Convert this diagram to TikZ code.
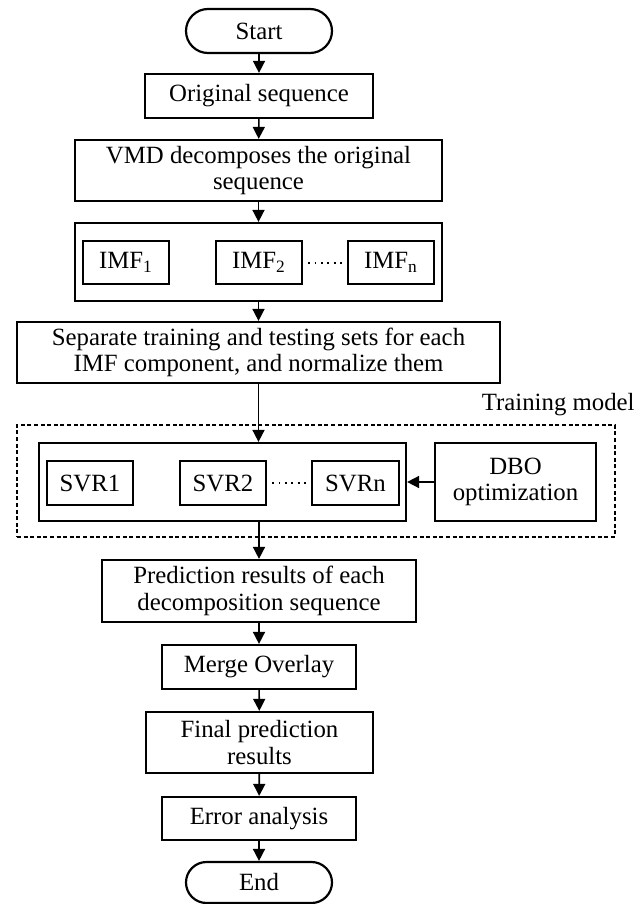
\documentclass[tikz,border=0pt]{standalone}
\usepackage{fontspec}
\setmainfont{Liberation Serif}
\usetikzlibrary{arrows.meta}
\begin{document}
\begin{tikzpicture}[x=0.5pt,y=-0.5pt,
  txt/.style={font=\fontsize{12.4}{13.4}\selectfont},
  box/.style={draw, line width=1.1pt, inner sep=0pt, align=center, txt},
  term/.style={box, rounded corners=11pt},
  arr/.style={-{Triangle[width=6pt,length=6pt]}, line width=0.8pt},
  dotsline/.style={line width=1pt, dash pattern=on 0.9pt off 2.3pt}]
\useasboundingbox (0,0) rectangle (637,904);

% main column
\node[term, minimum width=73pt, minimum height=22pt] (start) at (259,31) {Start};
\node[box, minimum width=114pt, minimum height=22pt] (orig) at (259,96) {Original sequence};
\node[box, minimum width=183.5pt, minimum height=30.5pt] (vmd) at (258.5,170.5) {VMD decomposes the original\\sequence};

% IMF group
\node[box, minimum width=183.5pt, minimum height=39pt] (imfo) at (258.5,262) {};
\node[box, minimum width=43pt, minimum height=21.5pt] (imf1) at (126,262.5) {IMF\textsubscript{1}};
\node[box, minimum width=43pt, minimum height=21.5pt] (imf2) at (259,262.5) {IMF\textsubscript{2}};
\node[box, minimum width=43pt, minimum height=21.5pt] (imfn) at (391,262.5) {IMF\textsubscript{n}};
\draw[dotsline] ([xshift=2.5pt]imf2.east) -- ([xshift=-2pt]imfn.west);

\node[box, minimum width=241.5pt, minimum height=30.5pt] (sep) at (258.5,352.5) {Separate training and testing sets for each\\IMF component, and normalize them};

% training model
\node[draw, line width=1pt, dash pattern=on 2pt off 1.3pt, minimum width=299pt, minimum height=56pt, inner sep=0pt] (train) at (316,481) {};
\node[txt, anchor=east, inner sep=0pt] (trainlbl) at (635,405) {Training model};
\node[box, minimum width=183.5pt, minimum height=39pt] (svro) at (222.5,482) {};
\node[box, minimum width=43pt, minimum height=22pt] (svr1) at (90,483) {SVR1};
\node[box, minimum width=43pt, minimum height=22pt] (svr2) at (223,483) {SVR2};
\node[box, minimum width=43.5pt, minimum height=22pt] (svrn) at (355.5,483) {SVRn};
\draw[dotsline] ([xshift=2.5pt]svr2.east) -- ([xshift=-2pt]svrn.west);
\node[box, minimum width=80.5pt, minimum height=39pt] (dbo) at (515.5,482) {DBO\\optimization};

\node[box, minimum width=157pt, minimum height=31pt] (pred) at (259,591) {Prediction results of each\\decomposition sequence};
\node[box, minimum width=97pt, minimum height=22pt] (merge) at (259,667) {Merge Overlay};
\node[box, minimum width=113.5pt, minimum height=30.5pt] (final) at (259.5,742.5) {Final prediction\\results};
\node[box, minimum width=97pt, minimum height=21.5pt] (err) at (259,818.5) {Error analysis};
\node[term, minimum width=73pt, minimum height=20.5pt, rounded corners=10.25pt] (end) at (259,882.5) {End};

% connectors
\draw[arr] (start) -- (orig);
\draw[arr] (orig) -- (vmd);
\draw[arr] (vmd) -- (imfo);
\draw[arr] (imfo.south) -- (imfo.south |- sep.north);
\draw[arr] (sep.south) -- (sep.south |- svro.north);
\draw[arr] (dbo.west) -- (svro.east |- dbo.west);
\draw[arr] (pred.north |- svro.south) -- (pred.north);
\draw[arr] (pred) -- (merge);
\draw[arr] (merge) -- (final);
\draw[arr] (final) -- (err);
\draw[arr] (err) -- (end);
\end{tikzpicture}
\end{document}
